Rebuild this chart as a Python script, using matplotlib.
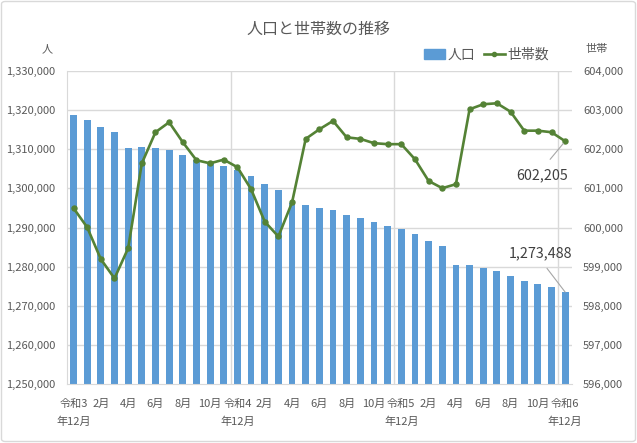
import matplotlib
matplotlib.use("Agg")
import matplotlib.pyplot as plt
from matplotlib.patches import Rectangle, FancyBboxPatch
from matplotlib.lines import Line2D
import numpy as np

plt.rcParams['font.family'] = ['Noto Sans CJK JP', 'DejaVu Sans']

# ---- data ----
categories = ["令和3\n年12月", "1月", "2月", "3月", "4月", "5月", "6月", "7月", "8月", "9月", "10月", "11月",
              "令和4\n年12月", "1月", "2月", "3月", "4月", "5月", "6月", "7月", "8月", "9月", "10月", "11月",
              "令和5\n年12月", "1月", "2月", "3月", "4月", "5月", "6月", "7月", "8月", "9月", "10月", "11月",
              "令和6\n年12月"]
population = [1318700, 1317450, 1315660, 1314380, 1310300, 1310550, 1310300, 1309800, 1308500, 1307240,
              1306400, 1305700, 1304680, 1303150, 1301100, 1299600, 1296200, 1295750, 1295060, 1294550,
              1293190, 1292510, 1291400, 1290380, 1289700, 1288340, 1286560, 1285370, 1280520, 1280520,
              1279750, 1278990, 1277710, 1276430, 1275670, 1274810, 1273488]
households = [600495, 600005, 599190, 598700, 599470, 601640, 602435, 602690, 602180, 601720,
              601640, 601735, 601540, 600980, 600150, 599770, 600640, 602265, 602510, 602725,
              602305, 602265, 602155, 602130, 602130, 601745, 601190, 601005, 601107, 603022,
              603150, 603175, 602960, 602475, 602475, 602435, 602205]
left_ticks = list(range(1250000, 1330001, 10000))
right_ticks = list(range(596000, 604001, 1000))
title = "人口と世帯数の推移"
series_names = ["人口", "世帯数"]

BAR = "#5B9BD5"
LINE = "#548235"
TXT = "#595959"
GRID = "#D9D9D9"

W, H = 637, 443
fig = plt.figure(figsize=(W / 100, H / 100), dpi=100)
ax = fig.add_axes([66.7 / W, 1 - 384 / H, (572 - 66.7) / W, (384 - 71) / H])
ax2 = ax.twinx()

x = np.arange(len(categories))
ax.bar(x, population, width=0.5, color=BAR, zorder=2)
ax2.plot(x, households, color=LINE, lw=1.9, marker="o", markersize=3.6, zorder=3)

ax.set_xlim(-0.5, len(categories) - 0.5)
ax.set_ylim(left_ticks[0], left_ticks[-1])
ax2.set_ylim(right_ticks[0], right_ticks[-1])
ax.set_yticks(left_ticks)
ax2.set_yticks(right_ticks)
ax.set_yticklabels([f"{v:,}" for v in left_ticks])
ax2.set_yticklabels([f"{v:,}" for v in right_ticks])

ax.set_xticks(x[::2])
ax.set_xticklabels(categories[::2], linespacing=1.8)

# gridlines
for v in left_ticks[1:]:
    ax.axhline(v, color=GRID, lw=1, zorder=0)
for xv in [11.5, 23.5, 35.5]:
    ax.axvline(xv, color=GRID, lw=1, zorder=0)

for a in (ax, ax2):
    for s in a.spines.values():
        s.set_visible(False)
ax.spines['left'].set_visible(True)
ax.spines['left'].set_color(GRID)
ax.spines['bottom'].set_visible(True)
ax.spines['bottom'].set_color(GRID)

ax.tick_params(axis='y', length=0, pad=8, labelsize=8, labelcolor=TXT)
ax2.tick_params(axis='y', length=0, pad=8, labelsize=8, labelcolor=TXT)
ax.tick_params(axis='x', length=0, pad=11, labelsize=8, labelcolor=TXT)

# data labels
ax2.annotate(f"{households[-1]:,}", xy=(x[-1], households[-1]), xycoords='data',
             xytext=(-22.7, -34.3), textcoords='offset pixels', ha='center', va='center',
             fontsize=10.3, color="#404040",
             arrowprops=dict(arrowstyle='-', color="#A6A6A6", lw=0.8, relpos=(0.5, 1.0),
                             shrinkA=6, shrinkB=2))
ax.annotate(f"{population[-1]:,}", xy=(x[-1], population[-1]), xycoords='data',
            xytext=(-24.5, 39), textcoords='offset pixels', ha='center', va='center',
            fontsize=10.3, color="#404040",
            arrowprops=dict(arrowstyle='-', color="#A6A6A6", lw=0.8, relpos=(0.5, 0.0),
                            shrinkA=5, shrinkB=0))

# legend
handles = [Rectangle((0, 0), 1, 1, color=BAR),
           Line2D([0], [0], color=LINE, lw=1.9, marker="o", markersize=3)]
leg = fig.legend(handles, series_names, loc='center right', ncol=2,
                 bbox_to_anchor=(556 / W, 1 - 55 / H), bbox_transform=fig.transFigure,
                 frameon=False, fontsize=10, handlelength=1.5, handletextpad=0.2,
                 columnspacing=0.6, borderpad=0)
for t in leg.get_texts():
    t.set_color(TXT)

fig.text(318 / W, 1 - 29 / H, title, ha='center', va='center', fontsize=11.5, color=TXT)
fig.text(47 / W, 1 - 49 / H, "人", ha='center', va='center', fontsize=8, color=TXT)
fig.text(597 / W, 1 - 49 / H, "世帯", ha='center', va='center', fontsize=8, color=TXT)

border = FancyBboxPatch((1.5 / W, 1.5 / H), (W - 3) / W, (H - 3) / H,
                        boxstyle="round,pad=0,rounding_size=0.006",
                        transform=fig.transFigure, fill=False, edgecolor=GRID, lw=1)
fig.patches.append(border)

fig.savefig("out.png", dpi=100, facecolor="white")
